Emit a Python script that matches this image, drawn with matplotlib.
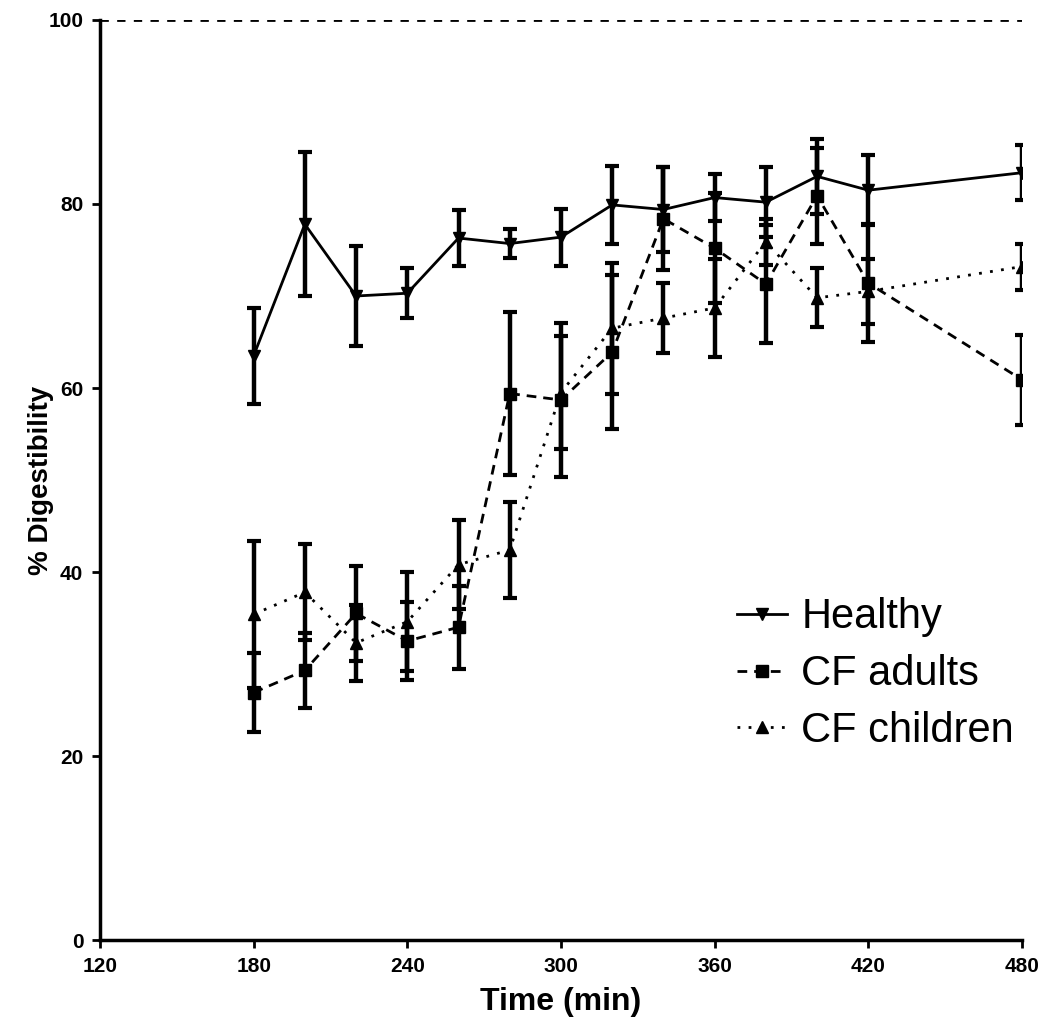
import matplotlib
matplotlib.use("Agg")
import matplotlib.pyplot as plt
from matplotlib.lines import Line2D

# time points (min)
time = [180, 200, 220, 240, 260, 280, 300, 320, 340, 360, 380, 400, 420, 480]

# mean % digestibility and error (SEM)
healthy = [63.5, 77.8, 70.0, 70.3, 76.3, 75.7, 76.4, 79.9, 79.4, 80.7, 80.2, 83.0, 81.5, 83.4]
healthy_err = [5.2, 7.8, 5.4, 2.7, 3.0, 1.6, 3.1, 4.2, 4.6, 2.6, 3.8, 4.1, 3.8, 3.0]

cf_adults = [26.9, 29.3, 35.5, 32.5, 34.0, 59.4, 58.7, 63.9, 78.4, 75.2, 71.3, 80.9, 71.4, 60.9]
cf_adults_err = [4.3, 4.1, 5.2, 4.2, 4.5, 8.9, 8.4, 8.4, 5.6, 6.0, 6.4, 5.2, 6.4, 4.9]

cf_children = [35.4, 37.8, 32.3, 34.6, 40.8, 42.4, 59.5, 66.5, 67.6, 68.7, 75.9, 69.8, 70.5, 73.2]
cf_children_err = [8.0, 5.2, 4.1, 5.4, 4.8, 5.2, 6.1, 7.1, 3.8, 5.3, 2.5, 3.2, 3.5, 2.5]

labels = ["Healthy", "CF adults", "CF children"]
x_ticks = [120, 180, 240, 300, 360, 420, 480]
y_ticks = [0, 20, 40, 60, 80, 100]

plt.rcParams["font.family"] = ["Liberation Sans", "DejaVu Sans"]

fig = plt.figure(figsize=(10.5, 10.25), dpi=100)
ax = fig.add_axes([0.0952, 0.0829, 0.8781, 0.8976])

eb_kw = dict(color="black", ecolor="black", elinewidth=3.2, capsize=5, capthick=3, markersize=8)
dash_adult = (0, (3.5, 2.5))
dot_child = (0, (1, 3))

ax.errorbar(time, healthy, yerr=healthy_err, marker="v", linestyle="-", linewidth=2, **eb_kw)
ax.errorbar(time, cf_adults, yerr=cf_adults_err, marker="s", linestyle=dash_adult, linewidth=2, **eb_kw)
ax.errorbar(time, cf_children, yerr=cf_children_err, marker="^", linestyle=dot_child, linewidth=2, **eb_kw)

# reference line at 100 %
ax.axhline(100, color="black", linestyle=(0, (3, 3)), linewidth=2)

ax.set_xlim(120, 480)
ax.set_ylim(0, 100)
ax.set_xticks(x_ticks)
ax.set_yticks(y_ticks)
ax.spines["top"].set_visible(False)
ax.spines["right"].set_visible(False)
ax.spines["left"].set_linewidth(2.5)
ax.spines["bottom"].set_linewidth(2.5)
ax.tick_params(direction="out", length=6, width=2, labelsize=15, pad=6)
for lab in ax.get_xticklabels() + ax.get_yticklabels():
    lab.set_fontweight("bold")

ax.set_xlabel("Time (min)", fontsize=23, fontweight="bold", labelpad=8)
ax.set_ylabel("% Digestibility", fontsize=20, fontweight="bold", labelpad=-4)

handles = [
    Line2D([], [], color="black", marker="v", linestyle="-", linewidth=2, markersize=8),
    Line2D([], [], color="black", marker="s", linestyle=dash_adult, linewidth=2, markersize=8),
    Line2D([], [], color="black", marker="^", linestyle=dot_child, linewidth=2, markersize=8),
]
ax.legend(handles, labels, loc="upper left", bbox_to_anchor=(0.668, 0.395), frameon=False,
          fontsize=30, handlelength=1.2, handletextpad=0.35, labelspacing=0.4,
          borderpad=0)

fig.savefig("out.png", dpi=100)
